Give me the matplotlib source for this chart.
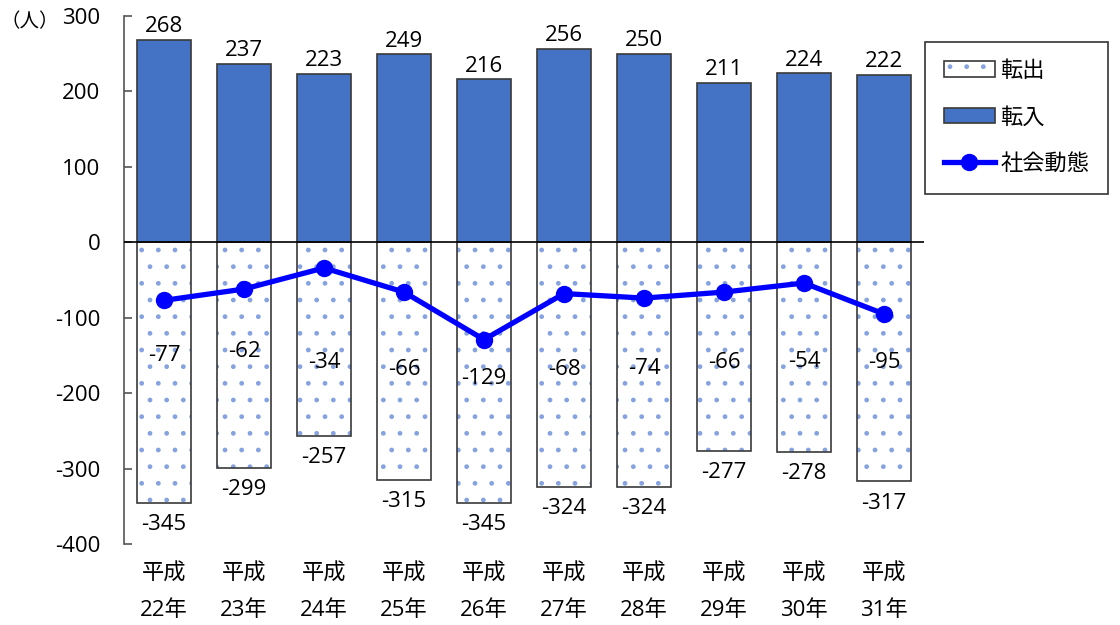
import matplotlib.pyplot as plt
from matplotlib.lines import Line2D
from matplotlib.patches import Patch

plt.rcParams['font.family'] = ['Open Sans', 'Noto Sans CJK JP', 'DejaVu Sans']
plt.rcParams['axes.unicode_minus'] = False

years = ['平成\n22年', '平成\n23年', '平成\n24年', '平成\n25年', '平成\n26年',
         '平成\n27年', '平成\n28年', '平成\n29年', '平成\n30年', '平成\n31年']
tennyu = [268, 237, 223, 249, 216, 256, 250, 211, 224, 222]
tenshutsu = [-345, -299, -257, -315, -345, -324, -324, -277, -278, -317]
shakai = [-77, -62, -34, -66, -129, -68, -74, -66, -54, -95]
# where the 社会動態 value labels sit (y in data units)
shakai_label_y = [-150, -145, -160, -168, -180, -168, -167, -160, -158, -160]

bar_blue = '#4472C4'
dot_blue = '#86a3e0'
edge = '#3a3a3a'
fs = 16

fig = plt.figure(figsize=(11.2, 6.25), dpi=100)
ax = fig.add_axes([124 / 1120, 1 - 544 / 625, 800 / 1120, 528 / 625])

x = range(len(years))
w = 0.675

# 転出: dotted fill, then a separate outline so the dots stay blue
ax.bar(x, tenshutsu, w, color='white', edgecolor=dot_blue, hatch='.', linewidth=0)
ax.bar(x, tenshutsu, w, fill=False, edgecolor=edge, linewidth=1.2)
ax.bar(x, tennyu, w, color=bar_blue, edgecolor=edge, linewidth=1.2)

ax.axhline(0, color='black', lw=1.2, zorder=3)
ax.plot(x, shakai, color='#0000FF', lw=3.8, marker='o', markersize=11.5, zorder=4)

for i in x:
    ax.annotate(str(tennyu[i]), (i, tennyu[i]), xytext=(0, 2), textcoords='offset points',
                ha='center', va='bottom', fontsize=fs)
    ax.annotate(str(tenshutsu[i]), (i, tenshutsu[i]), xytext=(0, -8), textcoords='offset points',
                ha='center', va='top', fontsize=fs)
    ax.text(i, shakai_label_y[i], str(shakai[i]), ha='center', va='center', fontsize=fs, zorder=5)

ax.set_xlim(-0.5, len(years) - 0.5)
ax.set_ylim(-400, 300)
ax.set_yticks(range(-400, 301, 100))
ax.set_xticks(list(x))
ax.set_xticklabels(years, fontsize=fs, linespacing=1.95)
ax.tick_params(axis='x', length=0, pad=14)
ax.tick_params(axis='y', direction='in', length=6, width=1.2, color='#555555',
               labelsize=fs, pad=17)

for s in ['top', 'right', 'bottom']:
    ax.spines[s].set_visible(False)
ax.spines['left'].set_color('#555555')
ax.spines['left'].set_linewidth(1.2)

fig.text(0, 1 - 22 / 625, '（人）', fontsize=14, va='center', ha='left')

out_handle = (Patch(facecolor='white', edgecolor=dot_blue, hatch='.', linewidth=0),
              Patch(fill=False, edgecolor=edge, linewidth=1.2))
in_handle = Patch(facecolor=bar_blue, edgecolor=edge, linewidth=1.2)
line_handle = Line2D([], [], color='#0000FF', lw=3.8, marker='o', markersize=11.5)
leg = fig.legend([out_handle, in_handle, line_handle], ['転出', '転入', '社会動態'],
                 loc='upper left', bbox_to_anchor=(925 / 1120, 1 - 42 / 625),
                 borderaxespad=0, fontsize=fs, frameon=True, fancybox=False,
                 edgecolor='black', handlelength=2.3, handleheight=0.7,
                 labelspacing=1.15, handletextpad=0.25, borderpad=0.85)
leg.get_frame().set_linewidth(1.2)

fig.savefig('out.png', dpi=100)
